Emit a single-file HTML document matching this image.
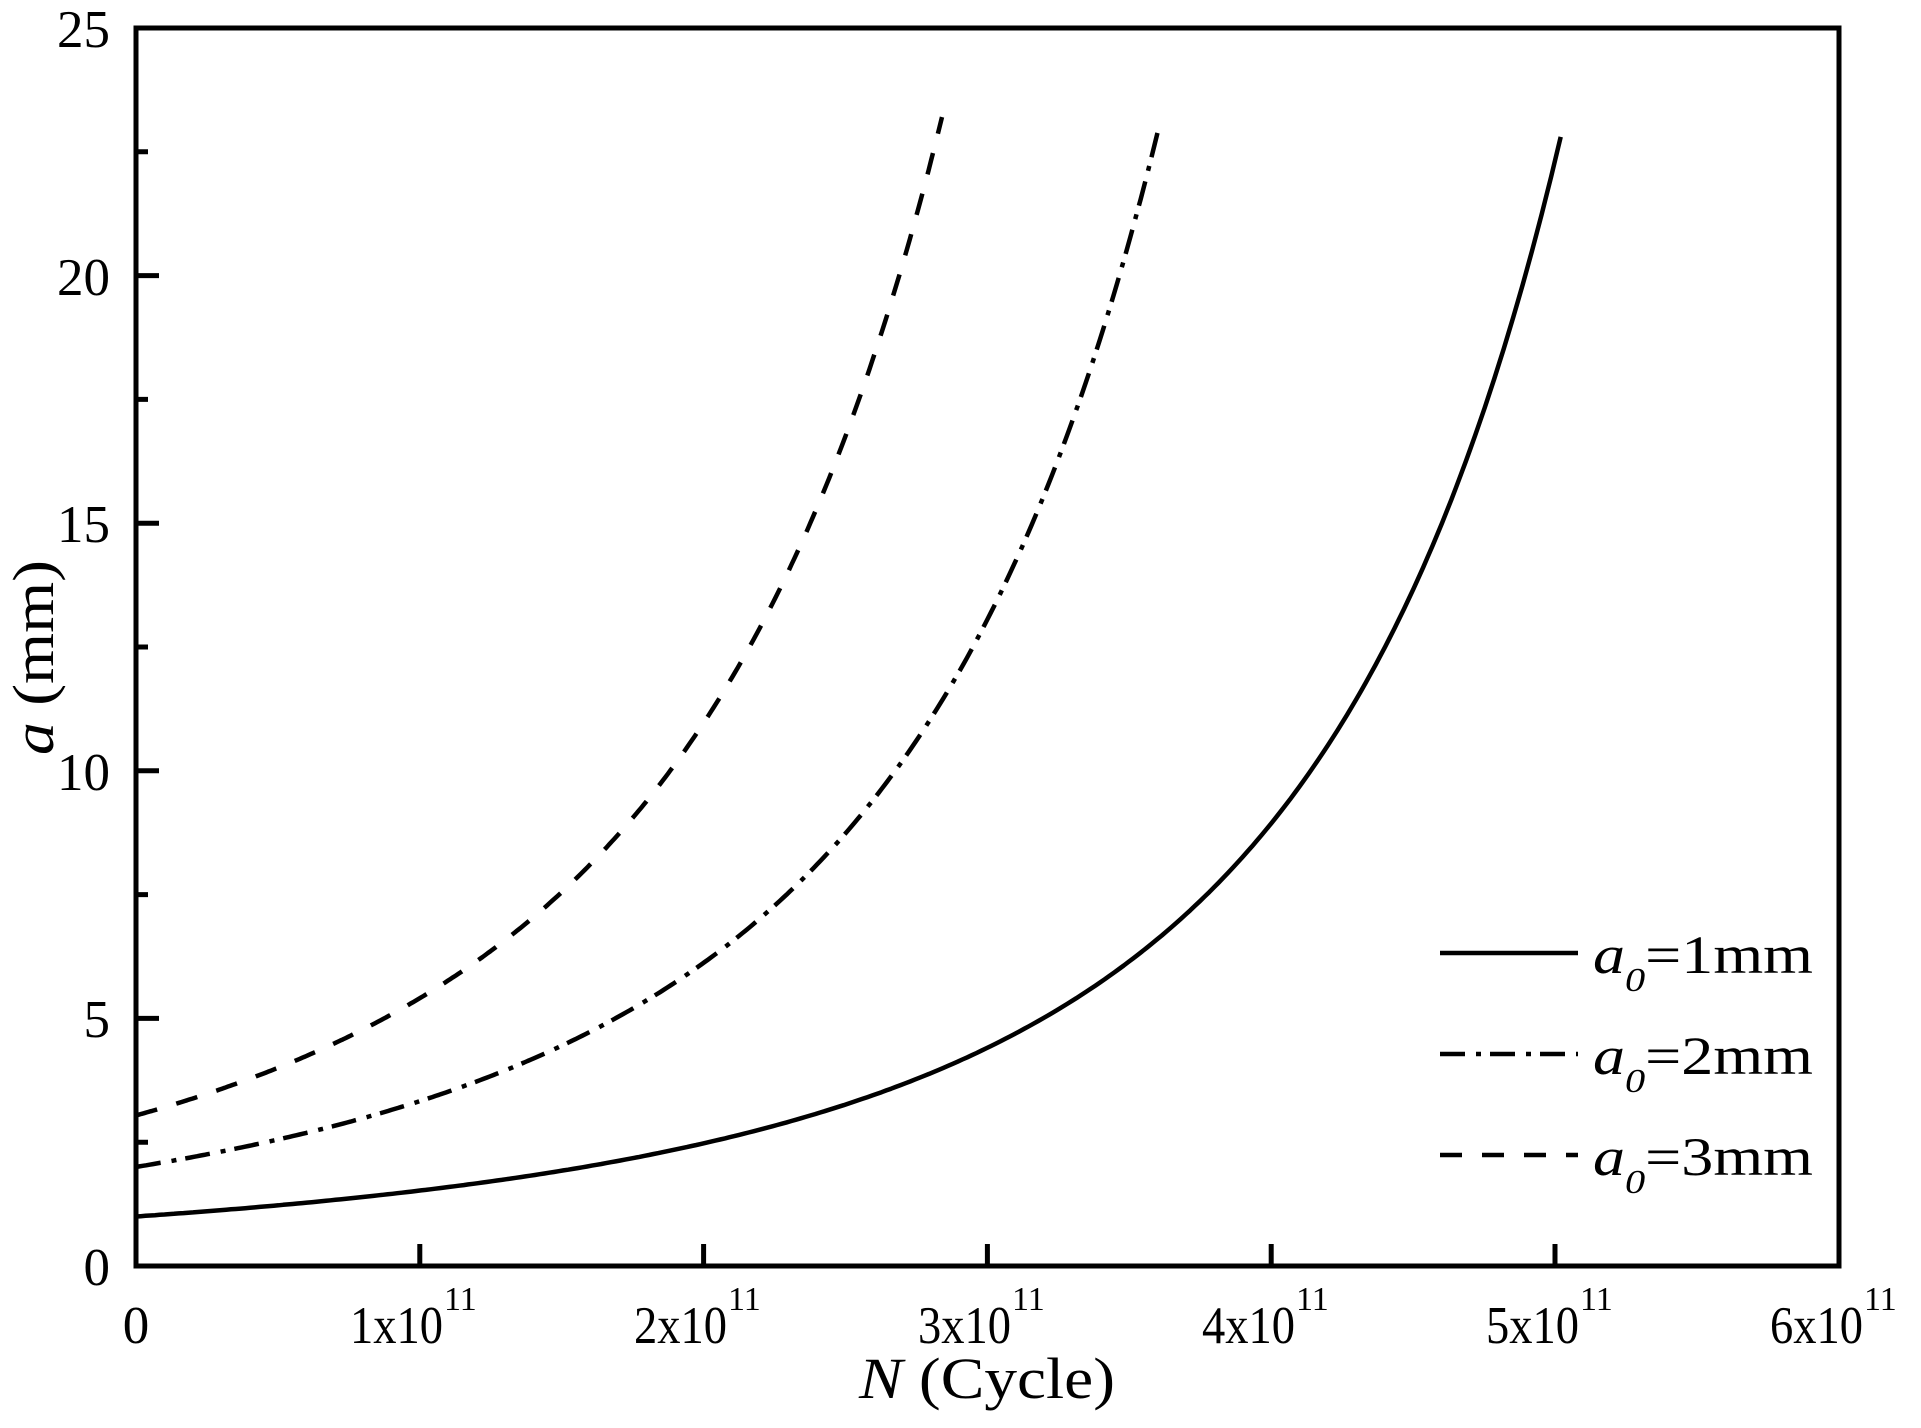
<!DOCTYPE html>
<html><head><meta charset="utf-8"><style>
html,body{margin:0;padding:0;background:#fff}
svg{display:block}
text{font-family:"Liberation Serif","Times New Roman",serif;fill:#000}
</style></head><body>
<svg width="1921" height="1428" viewBox="0 0 1921 1428" xmlns="http://www.w3.org/2000/svg">
<g stroke="#000" stroke-width="5" fill="none">
<rect x="136" y="28" width="1703" height="1238"/>
<path d="M419.8 1266v-22 M703.6 1266v-22 M987.4 1266v-22 M1271.2 1266v-22 M1555 1266v-22"/>
<path d="M136 1018.4h23 M136 770.8h23 M136 523.2h23 M136 275.6h23"/>
<path d="M136 1142.2h12 M136 894.6h12 M136 647h12 M136 399.4h12 M136 151.8h12"/>
</g>
<g stroke="#000" stroke-width="4.5" fill="none" stroke-linejoin="round">
<polyline id="c1" points="136,1216.5 246.7,1201.1 419.8,1189.2 550.3,1164.5 703.6,1140.2 854,1092.7 981.7,1043.2 1061.2,997.1 1123.6,960.5 1171.9,914.4 1220.1,864.9 1271.2,815.4 1328,736.1 1390.4,637.1 1438.6,538.1 1475.5,453.9 1512.4,330.1 1538,206.3 1557.8,137.1"/>
<polyline id="c2" stroke-dasharray="25 11 5 9" points="136,1167 246.7,1143.7 419.8,1101.1 550.3,1046.1 610,1013.5 703.6,966.4 757.5,924.3 854,845.1 902.3,795.6 964.7,696.5 1013,597.5 1061.2,488.5 1103.8,369.7 1140.7,231.1 1157.7,132"/>
<polyline id="c3" stroke-dasharray="22 20" points="136,1115.5 246.7,1076.3 419.8,1005.5 513.5,954 598.6,869.8 683.7,770.8 757.5,661.9 831.3,538.1 879.6,404.4 916.5,280.6 942,117.1"/>
<line x1="1440" y1="953" x2="1578" y2="953"/>
<line x1="1440" y1="1054" x2="1578" y2="1054" stroke-dasharray="25 11 5 9"/>
<line x1="1440" y1="1155" x2="1578" y2="1155" stroke-dasharray="22 20"/>
</g>
<g font-size="53" text-anchor="end">
<text x="110" y="1285">0</text>
<text x="110" y="1037">5</text>
<text x="110" y="790">10</text>
<text x="110" y="542">15</text>
<text x="110" y="295">20</text>
<text x="110" y="47">25</text>
</g>
<g font-size="53">
<text x="136" y="1343" text-anchor="middle">0</text>
<text x="350" y="1343" textLength="93" lengthAdjust="spacingAndGlyphs">1x10</text><text x="444" y="1310" font-size="34">11</text>
<text x="634" y="1343" textLength="93" lengthAdjust="spacingAndGlyphs">2x10</text><text x="728" y="1310" font-size="34">11</text>
<text x="918" y="1343" textLength="93" lengthAdjust="spacingAndGlyphs">3x10</text><text x="1012" y="1310" font-size="34">11</text>
<text x="1202" y="1343" textLength="93" lengthAdjust="spacingAndGlyphs">4x10</text><text x="1296" y="1310" font-size="34">11</text>
<text x="1486" y="1343" textLength="93" lengthAdjust="spacingAndGlyphs">5x10</text><text x="1580" y="1310" font-size="34">11</text>
<text x="1770" y="1343" textLength="93" lengthAdjust="spacingAndGlyphs">6x10</text><text x="1864" y="1310" font-size="34">11</text>
</g>
<text x="859" y="1398" font-size="58" textLength="256" lengthAdjust="spacingAndGlyphs"><tspan font-style="italic">N</tspan> (Cycle)</text>
<text transform="translate(53,755) rotate(-90)" font-size="58" textLength="195" lengthAdjust="spacingAndGlyphs"><tspan font-style="italic">a</tspan> (mm)</text>
<g font-size="54">
<text x="1593" y="973" textLength="220" lengthAdjust="spacingAndGlyphs"><tspan font-style="italic">a</tspan><tspan font-style="italic" font-size="34" dy="18">0</tspan><tspan dy="-18">=1mm</tspan></text>
<text x="1593" y="1074" textLength="220" lengthAdjust="spacingAndGlyphs"><tspan font-style="italic">a</tspan><tspan font-style="italic" font-size="34" dy="18">0</tspan><tspan dy="-18">=2mm</tspan></text>
<text x="1593" y="1175" textLength="220" lengthAdjust="spacingAndGlyphs"><tspan font-style="italic">a</tspan><tspan font-style="italic" font-size="34" dy="18">0</tspan><tspan dy="-18">=3mm</tspan></text>
</g>
</svg>
<script>
(function(){
  var p=0.32;
  function gen(id,a0,Nend,aend){
    var s0=Math.pow(a0,-p), s1=Math.pow(aend,-p), k=(s0-s1)/Nend, pts=[];
    for(var i=0;i<=300;i++){
      var N=Nend*i/300, a=Math.pow(s0-k*N,-1/p);
      pts.push((136+N*283.8).toFixed(1)+","+(1266-a*49.52).toFixed(1));
    }
    document.getElementById(id).setAttribute("points",pts.join(" "));
  }
  gen("c1",1,5.02,22.8);
  gen("c2",2,3.60,22.9);
  gen("c3",3.04,2.84,23.2);
})();
</script>
</body></html>
